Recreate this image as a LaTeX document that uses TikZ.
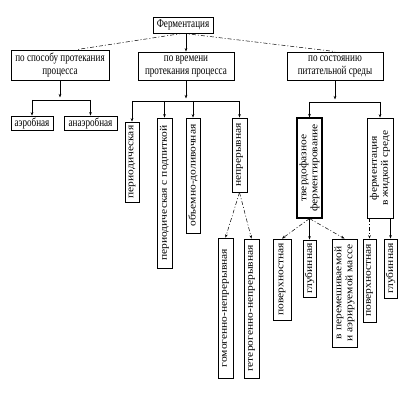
\documentclass[tikz,border=0pt]{standalone}
\usepackage{fontspec}
\setmainfont{Liberation Serif}
\newfontfamily\hfont[FakeStretch=0.76]{Liberation Serif}
\newfontfamily\vfont[FakeStretch=1.15]{Liberation Serif}
\usetikzlibrary{arrows.meta, positioning}
\tikzset{
  hbox/.style={draw, line width=0.9pt, inner sep=1pt, align=center, font=\hfont\fontsize{12}{13}\selectfont},
  vbox/.style={draw, line width=0.8pt, rotate=90, inner sep=1pt, align=center, font=\vfont\fontsize{10}{11}\selectfont},
  dashdot/.style={dash pattern=on 4pt off 2pt on 1pt off 2pt},
}
\begin{document}
\begin{tikzpicture}[x=1pt, y=-1pt, line width=0.5pt, >={Stealth[length=3.5pt,width=2.6pt]}]
  \useasboundingbox (0,0) rectangle (419,403);

  \node[hbox, line width=0.6pt, minimum width=60, minimum height=16] (ferm) at (183,25) {Ферментация};

  \node[hbox, minimum width=98, minimum height=30] (sposob) at (60,65) {по способу протекания\\процесса};
  \node[hbox, minimum width=96, minimum height=28] (vremya) at (186,66) {по времени\\протекания процесса};
  \node[hbox, minimum width=96, minimum height=28] (sreda) at (335,66) {по состоянию\\питательной среды};

  \node[hbox, line width=0.8pt, minimum width=42, minimum height=14] (aero) at (32,123) {аэробная};
  \node[hbox, line width=0.8pt, minimum width=53, minimum height=14] (anaero) at (90.5,123) {анаэробная};

  \node[vbox, minimum width=80, minimum height=14] (period) at (132,162) {периодическая};
  \node[vbox, minimum width=150, minimum height=15] (podpit) at (164.5,193) {периодическая с подпиткой};
  \node[vbox, minimum width=115, minimum height=14] (obem) at (193,175.5) {объемно-доливочная};
  \node[vbox, minimum width=74, minimum height=15] (nepr) at (239.5,155) {непрерывная};

  \node[vbox, minimum width=140, minimum height=15] (gomo) at (225.5,308) {гомогенно-непрерывная};
  \node[vbox, minimum width=139, minimum height=15] (getero) at (251.5,308.5) {гетерогенно-непрерывная};

  \node[vbox, line width=1.1pt, minimum width=100, minimum height=25] (tverd) at (309.5,168) {твердофазное\\ферментирование};
  \node[vbox, minimum width=100, minimum height=26] (zhidk) at (380,168) {ферментация\\в жидкой среде};

  \node[vbox, minimum width=81, minimum height=18] (poverhA) at (282,279.5) {поверхностная};
  \node[vbox, minimum width=57, minimum height=13] (glubA) at (309.5,268.5) {глубинная};
  \node[vbox, minimum width=108, minimum height=25] (perem) at (344.5,293) {в перемешиваемой\\и аэрируемой массе};
  \node[vbox, minimum width=83, minimum height=13] (poverhB) at (369.5,280.5) {поверхностная};
  \node[vbox, minimum width=59, minimum height=13] (glubB) at (390.5,268.5) {глубинная};

  \coordinate (busA) at (0,100);
  \coordinate (busB) at (0,101);
  \coordinate (busC) at (0,102);

  \draw[dashdot] (ferm.south) -- ([xshift=17pt]sposob.north);
  \draw[dashdot] (ferm.south) -- (sreda.north);
  \draw[->] (vremya.north |- ferm.south) -- (vremya.north);

  \draw[->] (sposob.south) -- ([yshift=-17pt]sposob.south);
  \draw (aero.north |- busA) -- (anaero.north |- busA);
  \draw
  (aero.north |- busA) edge[->] (aero.north)
  (anaero.north |- busA) edge[->] (anaero.north);

  \draw[->] (vremya.south) -- ([yshift=-18pt]vremya.south);
  \draw (period.east |- busB) -- (nepr.east |- busB);
  \draw
  (period.east |- busB) edge[->] (period.east)
  (podpit.east |- busB) edge[->] (podpit.east)
  (obem.east |- busB) edge[->] (obem.east)
  (nepr.east |- busB) edge[->] (nepr.east);

  \draw[->] (sreda.south) -- ([yshift=-19pt]sreda.south);
  \draw (tverd.east |- busC) -- (zhidk.east |- busC);
  \draw
  (tverd.east |- busC) edge[->] (tverd.east)
  (zhidk.east |- busC) edge[->] (zhidk.east);

  \draw
  (nepr.west) edge[->, dashdot] (gomo.east)
  (nepr.west) edge[->, dashdot] (getero.east);

  \draw
  (tverd.west) edge[->, dashdot] (poverhA.east)
  (tverd.west) edge[->] (glubA.east)
  (tverd.west) edge[->, dashdot] (perem.east);

  \draw
  (poverhB.east |- zhidk.west) edge[->, dashdot] (poverhB.east)
  (glubB.east |- zhidk.west) edge[->] (glubB.east);
\end{tikzpicture}
\end{document}
